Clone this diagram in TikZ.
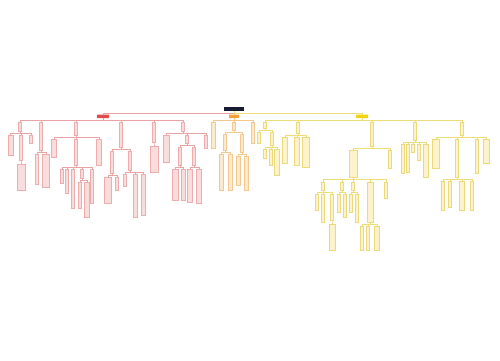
\documentclass[tikz,border=0pt]{standalone}

\definecolor{rootbg}{HTML}{161B33}
\definecolor{redmain}{HTML}{E24B4B}
\definecolor{redline}{HTML}{E9A3A3}
\definecolor{redfill}{HTML}{F9DCDC}
\definecolor{reddraw}{HTML}{EFACAC}
\definecolor{orgmain}{HTML}{F4A236}
\definecolor{orgline}{HTML}{F3C88E}
\definecolor{orgfill}{HTML}{FDE9CE}
\definecolor{orgdraw}{HTML}{F4C98F}
\definecolor{yelmain}{HTML}{F2D40C}
\definecolor{yelline}{HTML}{EEDD77}
\definecolor{yelfill}{HTML}{FCF3CC}
\definecolor{yeldraw}{HTML}{EBD97A}

\begin{document}
\begin{tikzpicture}[x=1pt, y=-1pt,
    box/.style={rectangle, inner sep=0pt, outer sep=0pt, anchor=north, line width=0.35pt},
    redbox/.style={box, fill=redfill, draw=reddraw},
    orgbox/.style={box, fill=orgfill, draw=orgdraw},
    yelbox/.style={box, fill=yelfill, draw=yeldraw},
    mainbox/.style={box, rounded corners=0.6pt, minimum height=3.5pt},
    redln/.style={draw=redline, line width=0.45pt},
    orgln/.style={draw=orgline, line width=0.45pt},
    yelln/.style={draw=yelline, line width=0.45pt}]

    \useasboundingbox (0,0) rectangle (500,360);

    % 1. Root and the three main branches
    \node[box, fill=rootbg, draw=white, line width=0.4pt, minimum width=21pt, minimum height=5pt] (root) at (234,106) {};
    \node[mainbox, fill=redmain, minimum width=12pt] (R) at (103,114.5) {};
    \node[mainbox, fill=orgmain, minimum width=10pt] (O) at (234,114.5) {};
    \node[mainbox, fill=yelmain, minimum width=12pt] (Y) at (362,114.5) {};

    % 2. Red branch (name/x/top/bottom/width)
    \foreach \nm/\cx/\ya/\yb/\bw in {
        r1/20/122/131/3, r2/41/122/150/3, r3/76/122/135/3, r4/121/122/147/3,
        r5/154/122/142/3, r6/183/122/131/3,
        r1a/10.5/135/155/5, r1b/21/135/160/3, r1b1/21/164/190/8, r1c/31/135/143/3,
        r2a/37/154/184/3, r2b/46/154/187/7,
        r3a/54/139/157/5, r3b/76/139/165/3, r3c/99/139/165/5,
        r3b1/62/169/183/3, r3b2/67/169/193/3, r3b3/73/169/208/3, r3b4/82/169/178/3,
        r3b5/92/169/203/3, r3b4a/80/182/208/3, r3b4b/87/182/217/5,
        r4a/112/151/173/3, r4b/130/151/170/3,
        r4a1/108/177/203/7, r4a2/117/177/190/3,
        r4b1/125/174/186/3, r4b2/135/174/217/4, r4b3/143/174/215/4,
        r5a/154/146/172/8,
        r6a/166/135/162/6, r6b/187/135/143/3, r6c/206/135/148/3,
        r6b1/180/147/165/3, r6b2/194/147/165/3,
        r6b1a/175/169/200/6, r6b1b/183/169/200/4, r6b2a/190/169/202/5, r6b2b/199/169/203/5} {
        \node[redbox, minimum width=\bw pt, minimum height={(\yb-\ya)*1pt}] (\nm) at (\cx,\ya) {};
    }

    % 3. Orange branch
    \foreach \nm/\cx/\ya/\yb/\bw in {
        o1/213/122/148/4, o2/234/122/130/3, o3/253/122/143/3,
        o2a/225/134/150/3, o2b/242/134/152/3,
        o2a1/221/154/190/4, o2a2/230/154/190/4, o2b1/238/156/185/4, o2b2/246/156/190/4} {
        \node[orgbox, minimum width=\bw pt, minimum height={(\yb-\ya)*1pt}] (\nm) at (\cx,\ya) {};
    }

    % 4. Yellow branch
    \foreach \nm/\cx/\ya/\yb/\bw in {
        y1/265/122/128/3, y2/298/122/133/3, y3/372/122/146/3, y4/415/122/140/3, y5/462/122/135/3,
        y1a/259/132/143/3, y1b/272/132/145/3,
        y1b1/265/149/158/3, y1b2/271/149/165/3, y1b3/277/149/175/5,
        y2a/285/137/163/5, y2b/297/137/165/5, y2c/306/137/167/7,
        y3a/353/150/177/8, y3b/390/150/168/3,
        y3a1/323/182/190/3, y3a2/342/182/190/3, y3a3/353/182/190/3, y3a4/370/182/222/6, y3a5/386/182/198/3,
        y3a1a/317/194/210/3, y3a1b/323/194/222/3, y3a1c/332/194/220/3, y3a1c1/332/224/250/6,
        y3a2a/339/194/212/3, y3a2b/345/194/217/3,
        y3a3a/351/194/212/3, y3a3b/357/194/222/3,
        y3a4a/362/226/250/3, y3a4b/368/226/250/3, y3a4c/377/226/250/5,
        y4a/403/144/173/3, y4b/408/144/172/3, y4c/413/144/152/3, y4d/419/144/160/3, y4e/426/144/177/5,
        y5a/436/139/168/7, y5b/457/139/177/3, y5c/477/139/173/3, y5d/486/139/163/6,
        y5b1/443/181/210/3, y5b2/450/181/207/3, y5b3/462/181/210/5, y5b4/472/181/210/3} {
        \node[yelbox, minimum width=\bw pt, minimum height={(\yb-\ya)*1pt}] (\nm) at (\cx,\ya) {};
    }

    % 5. Elbow connectors, parent -> child
    \foreach \p/\c in {root/R, R/r1, R/r2, R/r3, R/r4, R/r5, R/r6,
        r1/r1a, r1/r1b, r1/r1c, r1b/r1b1, r2/r2a, r2/r2b,
        r3/r3a, r3/r3b, r3/r3c, r3b/r3b1, r3b/r3b2, r3b/r3b3, r3b/r3b4, r3b/r3b5,
        r3b4/r3b4a, r3b4/r3b4b, r4/r4a, r4/r4b, r4a/r4a1, r4a/r4a2,
        r4b/r4b1, r4b/r4b2, r4b/r4b3, r5/r5a, r6/r6a, r6/r6b, r6/r6c,
        r6b/r6b1, r6b/r6b2, r6b1/r6b1a, r6b1/r6b1b, r6b2/r6b2a, r6b2/r6b2b} {
        \draw[redln] (\p.south) -- ++(0,2) -| (\c.north);
    }
    \foreach \p/\c in {root/O, O/o1, O/o2, O/o3, o2/o2a, o2/o2b,
        o2a/o2a1, o2a/o2a2, o2b/o2b1, o2b/o2b2} {
        \draw[orgln] (\p.south) -- ++(0,2) -| (\c.north);
    }
    \foreach \p/\c in {root/Y, Y/y1, Y/y2, Y/y3, Y/y4, Y/y5,
        y1/y1a, y1/y1b, y1b/y1b1, y1b/y1b2, y1b/y1b3,
        y2/y2a, y2/y2b, y2/y2c, y3/y3a, y3/y3b,
        y3a/y3a1, y3a/y3a2, y3a/y3a3, y3a/y3a4, y3a/y3a5,
        y3a1/y3a1a, y3a1/y3a1b, y3a1/y3a1c, y3a1c/y3a1c1,
        y3a2/y3a2a, y3a2/y3a2b, y3a3/y3a3a, y3a3/y3a3b,
        y3a4/y3a4a, y3a4/y3a4b, y3a4/y3a4c,
        y4/y4a, y4/y4b, y4/y4c, y4/y4d, y4/y4e,
        y5/y5a, y5/y5b, y5/y5c, y5/y5d,
        y5b/y5b1, y5b/y5b2, y5b/y5b3, y5b/y5b4} {
        \draw[yelln] (\p.south) -- ++(0,2) -| (\c.north);
    }
\end{tikzpicture}
\end{document}
